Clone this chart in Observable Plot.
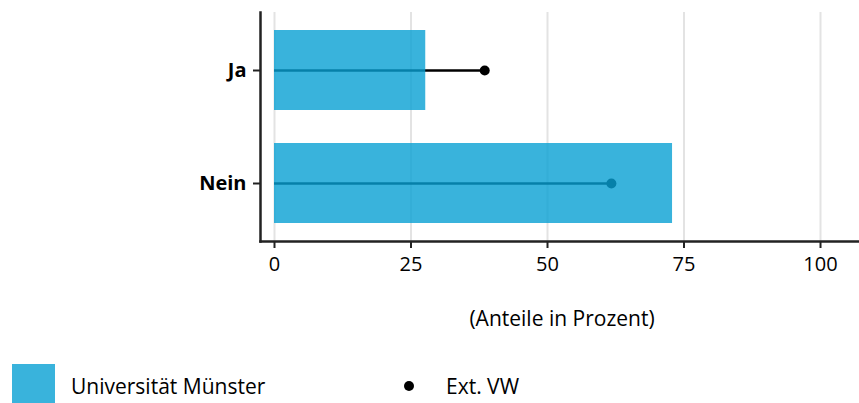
<!DOCTYPE html>
<html>
<head>
<meta charset="utf-8">
<script src="https://cdn.jsdelivr.net/npm/d3@7"></script>
<script src="https://cdn.jsdelivr.net/npm/@observablehq/plot@0.6"></script>
<style>
  html, body { margin: 0; padding: 0; background: #fff; }
  body { width: 859px; height: 403px; position: relative; overflow: hidden; font-family: "Open Sans", sans-serif; color: #000; }
  #chart { position: absolute; left: 0; top: 0; }
  .xlabel { position: absolute; top: 304px; left: 412px; width: 300px; text-align: center; font-size: 21px; }
  .sw { position: absolute; width: 43px; height: 43px; }
  .lt { position: absolute; white-space: nowrap; font-size: 21px; }
</style>
</head>
<body>
<div id="chart"></div>
<div class="xlabel" id="xlabel"></div>
<div id="legend"></div>
<script>
const categories = ["Ja", "Nein"];
const uniValues = [27.7, 72.9];
const extValues = [38.5, 61.7];
const xTicks = [0, 25, 50, 75, 100];
const xLabel = "(Anteile in Prozent)";
const seriesNames = ["Universität Münster", "Ext. VW"];

const barColor = "#08a0d3";
const barOpacity = 0.8;

const data = categories.map((c, i) => ({cat: c, uni: uniValues[i], ext: extValues[i]}));

const chart = Plot.plot({
  width: 859,
  height: 290,
  marginLeft: 260,
  marginRight: 0,
  marginTop: 12,
  marginBottom: 49,
  style: {fontFamily: "'Open Sans', sans-serif", fontSize: "20px", color: "#000", background: "#fff"},
  x: {domain: [-2.564, 107.14], ticks: xTicks},
  y: {domain: categories, paddingInner: 0.29, paddingOuter: 0.15},
  marks: [
    Plot.gridX(xTicks, {stroke: "#e3e3e3", strokeOpacity: 1, strokeWidth: 2}),
    Plot.ruleY(data, {y: "cat", x1: 0, x2: "ext", stroke: "#000", strokeWidth: 2.5}),
    Plot.dot(data, {y: "cat", x: "ext", r: 5, fill: "#000"}),
    Plot.barX(data, {y: "cat", x1: 0, x2: "uni", fill: barColor, fillOpacity: barOpacity}),
    Plot.frame({anchor: "left", stroke: "#222", strokeWidth: 2.5}),
    Plot.frame({anchor: "bottom", stroke: "#222", strokeWidth: 2.5}),
    Plot.axisX({ticks: xTicks, tickSize: 7, tickPadding: 8, label: null, fontSize: 20, stroke: "#222"}),
    Plot.axisY({tickSize: 7, tickPadding: 7, label: null, fontSize: 20, fontWeight: "bold", stroke: "#222"})
  ]
});
chart.querySelectorAll("[aria-label='y-axis tick label'] text, [aria-label='y-axis tick label']").forEach(e => e.setAttribute("font-weight", "bold"));
chart.querySelectorAll("[aria-label$='tick'] path, [aria-label$='tick']").forEach(e => e.setAttribute("stroke-width", "2"));
document.getElementById("chart").appendChild(chart);

document.getElementById("xlabel").textContent = xLabel;

const leg = document.getElementById("legend");
leg.innerHTML = `
  <div class="sw" style="left:12px;top:364px;background:${barColor};opacity:${barOpacity}"></div>
  <div class="lt" style="left:71px;top:372px">${seriesNames[0]}</div>
  <div style="position:absolute;left:404px;top:381px;width:10px;height:10px;border-radius:50%;background:#000"></div>
  <div class="lt" style="left:446px;top:372px">${seriesNames[1]}</div>
`;
</script>
</body>
</html>
